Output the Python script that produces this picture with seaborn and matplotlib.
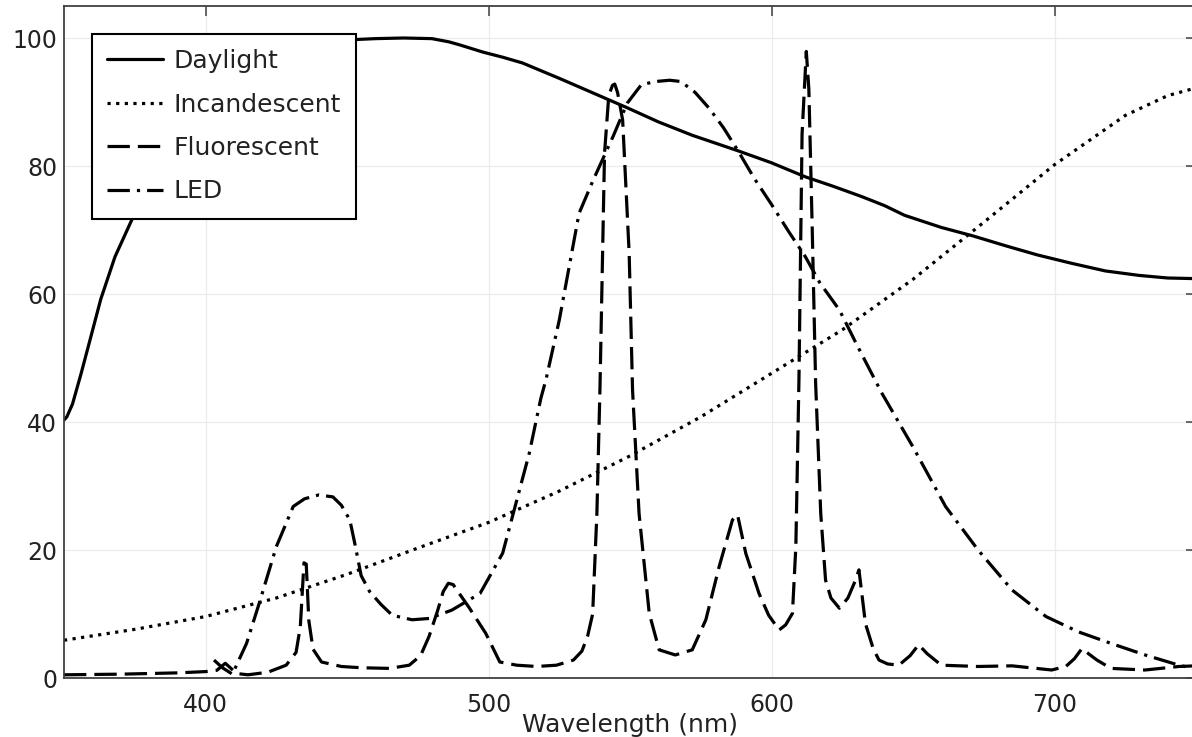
import numpy as np
import pandas as pd
import matplotlib
matplotlib.use("Agg")
import matplotlib.pyplot as plt
import seaborn as sns

# ---------------- data ----------------
daylight_wl = [350, 351, 353, 356, 359, 363, 368, 375, 382, 390, 400, 410, 420, 430, 440,
               450, 460, 470, 480, 486, 490, 498, 505, 512, 525, 537, 549, 560, 572, 588,
               600, 612, 622, 632, 640, 647, 660, 671, 683, 694, 706, 718, 730, 740, 750]
daylight_val = [40.3, 40.8, 42.8, 47.5, 52.5, 59.2, 65.8, 72.6, 78.0, 83.0, 87.8, 91.6, 94.7, 97.2, 98.9,
                99.7, 99.9, 100.0, 99.9, 99.4, 98.9, 97.8, 97.0, 96.1, 93.7, 91.4, 89.1, 86.9, 84.8, 82.4,
                80.5, 78.3, 76.8, 75.2, 73.8, 72.3, 70.4, 69.1, 67.5, 66.1, 64.8, 63.6, 62.9, 62.5, 62.4]

incand_wl = [350, 375, 400, 425, 450, 475, 500, 525, 550, 575, 600, 625, 650, 675, 700, 725, 740, 750]
incand_val = [5.9, 7.6, 9.6, 12.5, 16.2, 20.3, 24.3, 29.2, 34.7, 40.8, 47.6, 54.4, 62.3, 71.2, 80.2, 87.9, 91.0, 92.2]

fluor_wl = [350, 370, 390, 400, 404, 407, 411, 415, 422, 428.5, 432, 433.5, 434.8, 435.6, 436.5, 438,
            441, 448, 455, 465, 472, 476, 479, 482, 484, 485.8, 487.5, 490, 493, 499, 504, 510,
            517, 524, 530, 533, 535, 536.8, 538.3, 539.4, 541, 542.5, 543.8, 544.6, 545.6, 547.4,
            549.7, 550.9, 553.2, 556.8, 560.3, 566, 572, 576.8, 581.5, 586.2, 588, 590.9, 595.6,
            599, 602.7, 605, 607.4, 608.6, 609.7, 610.8, 612.3, 613.2, 614.4, 615.6, 617.4, 619.1,
            621, 624, 627, 629.7, 630.9, 633.2, 636, 638, 641, 645, 649, 652, 655, 660, 673, 685,
            699, 704, 707, 709.7, 712, 715, 720, 732, 744, 750]
fluor_val = [0.5, 0.6, 0.8, 1.0, 1.2, 2.3, 0.7, 0.5, 0.9, 2.0, 4.0, 8.0, 18.0, 17.8, 9.0, 4.5,
             2.5, 1.8, 1.6, 1.5, 2.0, 3.5, 6.5, 10.5, 13.5, 14.8, 14.6, 13.0, 11.1, 7.0, 2.5, 2.0,
             1.8, 2.0, 2.8, 4.2, 6.5, 10.0, 25.7, 45.5, 82.0, 91.0, 92.6, 92.8, 91.5, 87.2,
             66.4, 45.0, 25.7, 10.1, 4.4, 3.6, 4.4, 9.1, 17.4, 24.7, 25.5, 19.5, 13.2,
             9.8, 7.5, 8.3, 10.1, 20.5, 46.6, 85.0, 97.9, 92.0, 70.0, 46.0, 25.7, 15.3,
             12.5, 10.9, 12.5, 15.3, 16.9, 8.5, 4.5, 2.8, 2.2, 2.0, 3.5, 5.2, 3.8, 2.0, 1.8, 1.9,
             1.25, 1.8, 3.0, 4.6, 3.8, 2.8, 1.5, 1.25, 1.8, 1.9]

led_wl = [403, 406, 409.5, 414.5, 419, 425, 431, 435, 440, 445, 448, 451, 453, 455, 458, 462,
          466, 473, 479, 487, 497, 505, 514.4, 518.5, 520.3, 525, 532, 537, 544, 549, 554,
          559, 564, 568, 573, 578, 583, 588, 594, 600, 606, 612, 617, 624, 630, 639, 650,
          661.5, 673, 685, 697, 708.5, 720, 732, 744, 750]
led_val = [2.8, 1.6, 0.6, 5.4, 11.7, 20.5, 26.8, 28.0, 28.6, 28.3, 27.0, 24.7, 20.5, 16.0, 13.5, 11.5,
           9.8, 9.1, 9.3, 10.6, 13.2, 19.5, 35.1, 43.7, 46.6, 55.9, 72.6, 77.8, 84.6, 89.8, 92.7,
           93.2, 93.4, 93.2, 91.5, 89.0, 86.0, 82.5, 78.0, 74.0, 69.8, 65.8, 61.8, 57.5, 52.2, 44.5, 36.1,
           26.8, 20.0, 13.75, 9.6, 7.2, 5.4, 3.6, 2.0, 1.4]

series_names = ["Daylight", "Incandescent", "Fluorescent", "LED"]
x_ticks = [400, 500, 600, 700]
y_ticks = [0, 20, 40, 60, 80, 100]

# ---------------- style ----------------
sns.set_theme(style="white")
plt.rcParams["font.family"] = ["DejaVu Sans"]
text_color = "#222222"

fig = plt.figure(figsize=(11.92, 7.37), dpi=100)
ax = fig.add_axes([64 / 1192, 59 / 737, (1196 - 64) / 1192, 672 / 737])

lw = 2.3
styles = {
    "Daylight": "-",
    "Incandescent": (0, (1, 1.7)),
    "Fluorescent": (0, (7, 2.5)),
    "LED": (0, (7, 2.2, 1, 2.2)),
}
data = {
    "Daylight": (daylight_wl, daylight_val),
    "Incandescent": (incand_wl, incand_val),
    "Fluorescent": (fluor_wl, fluor_val),
    "LED": (led_wl, led_val),
}

for name in series_names:
    wl, val = data[name]
    df = pd.DataFrame({"wl": wl, "val": val})
    sns.lineplot(data=df, x="wl", y="val", ax=ax, color="black", lw=lw,
                 linestyle=styles[name], label=name, estimator=None, sort=False)

ax.set_xlim(350, 750)
ax.set_ylim(0, 105)
ax.set_xticks(x_ticks)
ax.set_yticks(y_ticks)
ax.grid(True, color="#ebebeb", lw=0.9)
ax.set_axisbelow(True)

for s in ax.spines.values():
    s.set_color("#404040")
    s.set_linewidth(1.3)

ax.tick_params(axis="both", direction="in", length=7, width=1.1, color="#404040",
               top=True, right=True, labelsize=17, labelcolor=text_color)
ax.tick_params(axis="x", pad=11)
ax.tick_params(axis="y", pad=5)

ax.set_xlabel("Wavelength (nm)", fontsize=18, color=text_color, labelpad=-3)
ax.set_ylabel("")

leg = ax.legend(loc="upper left", fontsize=18, frameon=True, fancybox=False,
                edgecolor="black", facecolor="white", framealpha=1,
                handlelength=2.25, handletextpad=0.4, borderaxespad=1.12,
                borderpad=0.6, labelspacing=0.78)
leg.get_frame().set_linewidth(1.5)
for t in leg.get_texts():
    t.set_color(text_color)

fig.savefig("out.png", dpi=100)
